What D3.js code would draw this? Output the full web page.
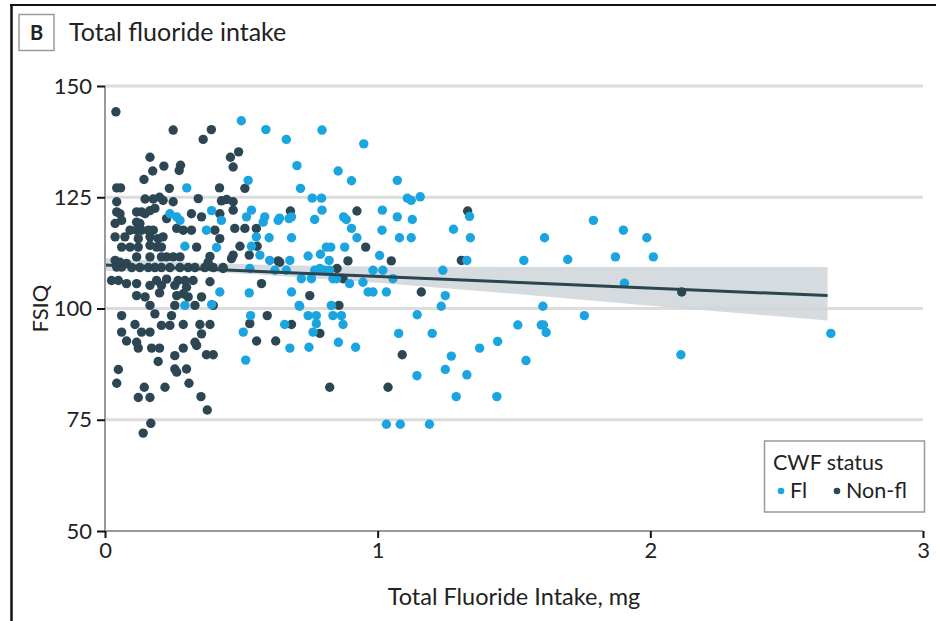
<!DOCTYPE html>
<html>
<head>
<meta charset="utf-8">
<script src="https://cdn.jsdelivr.net/npm/d3@7"></script>
<style>
  html, body { margin: 0; padding: 0; background: #fff; }
  svg text { font-family: Lato, "Noto Sans", sans-serif; fill: #222; }
</style>
</head>
<body>
<svg id="chart" width="936" height="621"></svg>
<script>
// Fluoridated communities: [total fluoride intake (mg), FSIQ]
const flPoints = [
  [0.5,142.2],[0.59,140.2],[0.665,138],[0.796,140.1],[0.949,137],[0.704,132.1],[0.855,130.9],[0.904,128.7],
  [0.3,127.1],[0.525,128.8],[0.717,127],[0.76,124.8],[0.794,124.8],[1.072,128.8],[1.109,124.8],[1.123,124.3],[1.156,125.1],
  [0.675,120.2],[0.684,120.6],[0.64,120.3],[0.796,122.1],[1.017,122.1],[0.875,120.6],[0.885,120],[1.072,120.6],
  [1.127,120],[1.337,120.7],[0.769,120],
  [0.684,115.9],[0.904,118],[0.924,115.9],[1.016,117.6],[1.08,115.9],[1.123,115.9],[1.278,117.8],[1.34,115.9],
  [0.812,113.8],[0.828,113.8],[0.879,113.8],[0.745,111.8],[0.79,112.2],[0.822,110.8],[1.007,111.9],[1.327,110.8],
  [0.678,110.8],[0.665,108.6],
  [0.72,106.7],[0.757,106.7],[0.769,108.6],[0.788,109],[0.806,108.6],[0.824,108.6],[0.836,106.7],[0.849,106.7],
  [0.897,105.6],[0.946,105.9],[0.983,108.6],[1.019,108.6],[1.056,106.7],[1.239,108.6],
  [0.684,103.7],[0.965,103.7],[0.983,103.7],[1.032,103.7],[1.248,102.9],
  [1.233,100.5],[0.714,100.5],[0.83,100.7],[0.745,98.4],[0.775,98.4],[0.836,98.4],[0.867,98.4],[0.659,96.4],
  [0.775,96.6],[0.873,96.4],[0.763,94.7],[1.145,98.6],[1.077,94.4],[1.2,94.4],
  [0.678,91.1],[0.748,91.3],[0.856,92.4],[0.919,91.3],[1.374,91.1],[1.44,92.6],[1.27,89.3],[1.248,86.3],
  [1.144,84.9],[1.327,85.1],[1.288,80.2],[1.437,80.2],[1.032,74],[1.083,74],[1.19,74],
  [1.791,119.8],[1.901,117.6],[1.987,115.9],[1.612,115.9],[1.536,110.8],[1.697,111],[1.872,111.6],[2.011,111.6],
  [1.905,105.7],[1.606,100.5],[1.758,98.4],[1.514,96.3],[1.6,96.3],[1.608,96.3],[1.618,94.6],[1.544,88.3],
  [2.112,89.6],[2.662,94.4],
  [0.238,121.3],[0.263,120.6],[0.275,119.8],[0.391,122],[0.427,119.8],[0.372,117.6],[0.293,114],[0.409,113.7],
  [0.421,103.7],[0.293,100.7],[0.391,100.9],
  [0.529,103.5],[0.534,98.4],[0.507,94.7],[0.516,88.4],[0.712,100.7],
  [0.537,114],[0.568,112],[0.604,110.8],[0.531,109],[0.623,108.6],
  [0.537,122.1],[0.519,120.6],[0.586,120.6],[0.58,119.4],[0.635,119.8],[0.555,116.1],[0.602,115.9]
];

// Non-fluoridated communities: [total fluoride intake (mg), FSIQ]
const nonFlPoints = [
  [0.04,144.2],[0.25,140.1],[0.39,140.2],[0.36,138],[0.49,135.2],[0.46,134],[0.47,131.8],[0.165,134],
  [0.175,130.9],[0.216,132],[0.272,131],[0.277,132.2],[0.143,129],
  [0.043,127.1],[0.057,127.1],[0.236,127],[0.42,127.1],[0.513,127],
  [0.043,124],[0.147,124.6],[0.177,124.6],[0.2,125],[0.213,124.3],[0.25,124],[0.342,124.7],[0.427,124.2],
  [0.446,124.5],[0.47,124],[0.47,122.1],
  [0.043,121.7],[0.055,121.3],[0.116,121.7],[0.134,121.7],[0.147,121.3],[0.165,122],[0.183,122.5],[0.226,120.2],
  [0.317,121.3],[0.354,120.6],[0.421,121.3],
  [0.037,119.1],[0.061,119.8],[0.116,119.4],[0.128,119.1],
  [0.092,117.6],[0.116,117.6],[0.134,117.6],[0.159,117.6],[0.177,117.6],[0.263,118],[0.287,117.6],[0.317,117.6],[0.403,117.6],
  [0.037,116.1],[0.073,116.1],[0.122,115.7],[0.165,116.1],[0.195,115.7],[0.213,116.1],[0.421,115.7],
  [0.061,113.8],[0.092,113.8],[0.122,113.8],[0.165,114.2],[0.189,113.8],[0.207,113.8],[0.336,113.8],
  [0.116,111.6],[0.165,111.6],[0.207,111.6],[0.226,111.6],[0.25,111.6],[0.275,111.6],[0.385,111.7],
  [0.037,110.8],[0.055,110.4],[0.079,110.1],[0.061,109.3],[0.043,109.3],
  [0.098,109.2],[0.128,109.2],[0.159,109.2],[0.183,109.2],[0.207,109.2],[0.238,109.2],[0.275,109.2],[0.305,109.2],
  [0.33,109.2],[0.366,109.2],[0.397,109.2],[0.433,109.2],[0.378,110.4],
  [0.024,106.3],[0.049,106.3],[0.079,105.6],[0.116,105.6],
  [0.189,106.3],[0.226,106.6],[0.268,106.3],[0.293,106.3],[0.323,106.3],[0.385,106],
  [0.165,105.2],[0.207,105.2],[0.256,105.2],[0.299,104.8],
  [0.116,102.9],[0.147,102.6],[0.2,103.5],[0.263,102.9],[0.287,103.3],[0.305,102.6],[0.354,102.6],
  [0.165,100.7],[0.256,100.7],[0.397,100.7],[0.33,100.7],
  [0.183,98.8],[0.061,98.4],[0.244,98.4],
  [0.11,96.4],[0.207,96.2],[0.238,96.2],[0.287,96.4],[0.348,96.4],[0.385,96.4],
  [0.061,94.7],[0.134,94.7],[0.165,94.7],[0.354,94.3],
  [0.079,92.7],[0.116,92.4],[0.122,91.1],[0.171,91.1],[0.2,91.1],[0.287,91.1],[0.33,92.4],[0.336,91.7],
  [0.256,89.4],[0.372,89.6],[0.397,89.6],[0.195,88.1],
  [0.049,86.3],[0.256,86.4],[0.263,85.7],[0.299,86.4],
  [0.043,83.2],[0.22,82.3],[0.308,83.2],[0.144,82.3],
  [0.122,80],[0.165,80],[0.352,80.2],[0.375,77.2],[0.168,74.2],[0.14,72],
  [0.68,121.9],[0.924,121.9],[1.33,121.9],[0.956,113.8],[0.891,110.7],[1.05,110.7],[1.307,110.8],[0.641,110.4],
  [0.851,109],[0.873,106.7],[0.751,102.9],[1.16,103.7],[0.858,100.7],[0.684,96.4],[0.788,94.4],[1.09,89.6],
  [0.824,82.3],[1.038,82.3],[2.115,103.7],
  [0.574,105.6],[0.531,96.6],[0.595,98.4],[0.556,92.7],[0.626,92.7],
  [0.495,114],[0.558,114],[0.47,112],[0.464,111.2],[0.529,112],[0.635,110.7],[0.433,109],
  [0.476,118],[0.513,118],[0.555,118]
];

// Linear fit and its confidence band
const fitX = [0, 2.65];
const fitY = [109.8, 102.9];
const bandX = [0, 0.3, 0.6, 1.0, 1.5, 2.0, 2.65];
const bandUpper = [111.3, 110.4, 109.8, 109.4, 109.3, 109.3, 109.3];
const bandLower = [108.4, 108.5, 107.5, 105.8, 103.3, 100.6, 97.3];

const xTicks = [0, 1, 2, 3];
const yTicks = [50, 75, 100, 125, 150];
const legendItems = [
  { label: "Fl", color: "#1aa5e0" },
  { label: "Non-fl", color: "#2c4753" }
];

const colorFl = "#1aa5e0";
const colorNonFl = "#2c4753";

const svg = d3.select("#chart");
const x = d3.scaleLinear().domain([0, 3]).range([105, 923]);
const y = d3.scaleLinear().domain([50, 150]).range([531, 86]);

// panel frame (left and top rules)
svg.append("line").attr("x1", 11.5).attr("x2", 11.5).attr("y1", 4).attr("y2", 621)
  .attr("stroke", "#111").attr("stroke-width", 2.5);
svg.append("line").attr("x1", 10).attr("x2", 936).attr("y1", 5).attr("y2", 5)
  .attr("stroke", "#111").attr("stroke-width", 2);

// panel letter and title
svg.append("rect").attr("x", 19).attr("y", 14.5).attr("width", 35).attr("height", 36)
  .attr("fill", "#fff").attr("stroke", "#9a9a9a").attr("stroke-width", 1.5);
svg.append("text").attr("x", 36.5).attr("y", 40).attr("text-anchor", "middle")
  .attr("font-size", 20).attr("font-weight", "bold").text("B");
svg.append("text").attr("x", 69).attr("y", 41).attr("font-size", 25).text("Total fluoride intake");

// horizontal grid
svg.append("g").selectAll("line").data(yTicks.filter(d => d > 50)).join("line")
  .attr("x1", x(0)).attr("x2", x(3)).attr("y1", d => y(d)).attr("y2", d => y(d))
  .attr("stroke", "#dcdcdc").attr("stroke-width", 3);

// confidence band
const area = d3.area().x(d => x(d[0])).y0(d => y(d[2])).y1(d => y(d[1]));
svg.append("path")
  .datum(bandX.map((v, i) => [v, bandUpper[i], bandLower[i]]))
  .attr("d", area).attr("fill", "#cfd5da").attr("fill-opacity", 0.85);

// points
const r = 4.7;
svg.append("g").selectAll("circle").data(nonFlPoints).join("circle")
  .attr("cx", d => x(d[0])).attr("cy", d => y(d[1])).attr("r", r).attr("fill", colorNonFl);
svg.append("g").selectAll("circle").data(flPoints).join("circle")
  .attr("cx", d => x(d[0])).attr("cy", d => y(d[1])).attr("r", r).attr("fill", colorFl);

// fitted line
svg.append("path")
  .datum(fitX.map((v, i) => [v, fitY[i]]))
  .attr("d", d3.line().x(d => x(d[0])).y(d => y(d[1])))
  .attr("stroke", "#2a4450").attr("stroke-width", 3).attr("fill", "none");

// y axis
const yAxis = svg.append("g").attr("transform", `translate(${x(0)},0)`)
  .call(d3.axisLeft(y).tickValues(yTicks).tickSize(8).tickPadding(5));
yAxis.select(".domain").attr("stroke", "#9a9a9a").attr("stroke-width", 2).attr("d", `M0,${y(150)}V${y(50)}`);
yAxis.selectAll(".tick line").attr("stroke", "#111").attr("stroke-width", 2);
yAxis.selectAll(".tick text").attr("font-size", 22).attr("font-family", "Lato, sans-serif").attr("fill", "#222");

// x axis
const xAxis = svg.append("g").attr("transform", `translate(0,${y(50)})`)
  .call(d3.axisBottom(x).tickValues(xTicks).tickFormat(d3.format("d")).tickSize(7).tickPadding(4));
xAxis.select(".domain").attr("stroke", "#9a9a9a").attr("stroke-width", 2).attr("d", `M${x(0)},0H${x(3)}`);
xAxis.selectAll(".tick line").attr("stroke", "#111").attr("stroke-width", 2);
xAxis.selectAll(".tick text").attr("font-size", 22).attr("font-family", "Lato, sans-serif").attr("fill", "#222");

// axis titles
svg.append("text").attr("x", x(1.5)).attr("y", 605).attr("text-anchor", "middle")
  .attr("font-size", 23.5).text("Total Fluoride Intake, mg");
svg.append("text").attr("transform", `translate(48,${y(100)}) rotate(-90)`)
  .attr("text-anchor", "middle").attr("font-size", 22).text("FSIQ");

// legend
const lg = svg.append("g");
lg.append("rect").attr("x", 764.5).attr("y", 441).attr("width", 160).attr("height", 71)
  .attr("fill", "#fff").attr("stroke", "#9a9a9a").attr("stroke-width", 1.5);
lg.append("text").attr("x", 773).attr("y", 470).attr("font-size", 21.5).text("CWF status");
const li = lg.selectAll("g.item").data(legendItems).join("g").attr("class", "item")
  .attr("transform", (d, i) => `translate(${i === 0 ? 781 : 837},491)`);
li.append("circle").attr("r", 3.3).attr("fill", d => d.color);
li.append("text").attr("x", 9).attr("y", 7).attr("font-size", 21.5).text(d => d.label);
</script>
</body>
</html>
